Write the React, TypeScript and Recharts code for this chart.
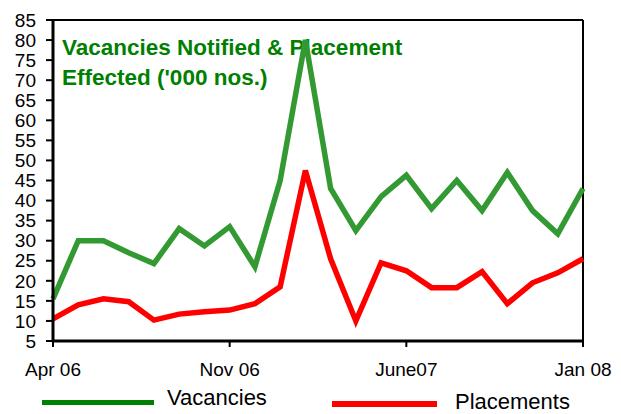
import React from 'react';
import { LineChart, Line, XAxis, YAxis, ReferenceLine } from 'recharts';

const months = [
  'Apr 06', 'May 06', 'Jun 06', 'Jul 06', 'Aug 06', 'Sep 06', 'Oct 06', 'Nov 06',
  'Dec 06', 'Jan 07', 'Feb 07', 'Mar 07', 'Apr 07', 'May 07', 'June07', 'Jul 07',
  'Aug 07', 'Sep 07', 'Oct 07', 'Nov 07', 'Dec 07', 'Jan 08',
];
const vacancies = [
  15.5, 30, 30, 27, 24.3, 33, 28.7, 33.5, 23.5, 45, 80, 43, 32.5, 41, 46.3, 38,
  45, 37.5, 47, 37.5, 31.7, 43,
];
const placements = [
  10.5, 14, 15.5, 14.8, 10.2, 11.7, 12.3, 12.7, 14.3, 18.5, 47.5, 25.5, 10, 24.5,
  22.5, 18.3, 18.3, 22.3, 14.3, 19.5, 22, 25.5,
];
const xTicks = ['Apr 06', 'Nov 06', 'June07', 'Jan 08'];
const yTicks = [5, 10, 15, 20, 25, 30, 35, 40, 45, 50, 55, 60, 65, 70, 75, 80, 85];

const GREEN = '#339933';
const RED = '#ff0000';
const FONT = 'Arial, "Liberation Sans", sans-serif';

const data = months.map((m, i) => ({
  month: m,
  Vacancies: vacancies[i],
  Placements: placements[i],
}));

// legend sits below the x labels, drawn as plain html
function LegendBox() {
  const label: React.CSSProperties = {
    position: 'absolute',
    fontSize: 22,
    lineHeight: '22px',
    color: '#000',
    whiteSpace: 'nowrap',
  };
  return (
    <div style={{ position: 'absolute', left: 0, top: 0, width: 621, height: 414, pointerEvents: 'none' }}>
      <div style={{ position: 'absolute', left: 42, top: 400, width: 112, height: 5, background: '#008000' }} />
      <div style={{ ...label, left: 167, top: 387 }}>Vacancies</div>
      <div style={{ position: 'absolute', left: 332, top: 401, width: 105, height: 6, background: RED }} />
      <div style={{ ...label, left: 455, top: 391 }}>Placements</div>
    </div>
  );
}

export default function App() {
  return (
    <div style={{ position: 'absolute', left: 0, top: 0, width: 621, height: 414, fontFamily: FONT, background: '#fff', overflow: 'hidden' }}>
      <div
        style={{
          position: 'absolute',
          left: 62,
          top: 33,
          color: '#008000',
          fontWeight: 'bold',
          fontSize: 22.5,
          lineHeight: '30px',
          whiteSpace: 'nowrap',
        }}
      >
        Vacancies Notified &amp; Placement
        <br />
        Effected ('000 nos.)
      </div>
      <div style={{ position: 'absolute', left: 0, top: 0 }}>
        <LineChart
          width={621}
          height={414}
          data={data}
          margin={{ top: 20, right: 38, left: 0, bottom: 43 }}
        >
          <XAxis
            dataKey="month"
            ticks={xTicks}
            interval={0}
            height={30}
            axisLine={{ stroke: '#000', strokeWidth: 3 }}
            tickLine={{ stroke: '#000', strokeWidth: 2 }}
            tickSize={6}
            tickMargin={16}
            tick={{ fill: '#000', fontSize: 19, fontFamily: FONT }}
          />
          <YAxis
            domain={[5, 85]}
            ticks={yTicks}
            interval={0}
            width={53}
            axisLine={{ stroke: '#000', strokeWidth: 3 }}
            tickLine={{ stroke: '#000', strokeWidth: 2 }}
            tickSize={7}
            tickMargin={10}
            tick={{ fill: '#000', fontSize: 19, fontFamily: FONT }}
          />
          <ReferenceLine y={85} stroke="#000" strokeWidth={2} />
          <ReferenceLine x="Jan 08" stroke="#000" strokeWidth={2} />
          <Line
            type="linear"
            dataKey="Vacancies"
            stroke={GREEN}
            strokeWidth={5.5}
            dot={false}
            isAnimationActive={false}
          />
          <Line
            type="linear"
            dataKey="Placements"
            stroke={RED}
            strokeWidth={5.5}
            dot={false}
            isAnimationActive={false}
          />
        </LineChart>
      </div>
      <LegendBox />
    </div>
  );
}
